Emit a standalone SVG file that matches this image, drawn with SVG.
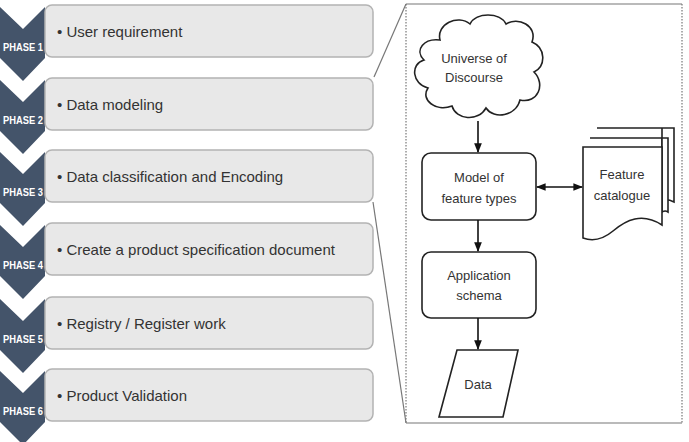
<svg xmlns="http://www.w3.org/2000/svg" width="689" height="442" viewBox="0 0 689 442">
<defs>
<style>
.chev{fill:#44546a}
.ph{fill:#fff;font-family:"Liberation Sans",sans-serif;font-size:10.5px;font-weight:bold}
.box{fill:#e8e8e8;stroke:#b3b3b3;stroke-width:1.5}
.bt{fill:#333;font-family:"Liberation Sans",sans-serif;font-size:15px}
.nd{fill:#fff;stroke:#222;stroke-width:1.6}
.nt{fill:#333;font-family:"Liberation Sans",sans-serif;font-size:13px;text-anchor:middle}
.con{stroke:#111;stroke-width:1.6;fill:none}
.frame{stroke:#777;stroke-width:1.2;fill:none}
.dot{stroke:#777;stroke-width:1.2;fill:none;stroke-dasharray:1.5 1.5}
</style>
<marker id="ah" viewBox="0 0 10 10" refX="9" refY="5" markerWidth="6" markerHeight="6" orient="auto-start-reverse">
<path d="M0,1 L10,5 L0,9 Z" fill="#111"/>
</marker>
</defs>

<g id="phase1">
<path class="chev" d="M0,7 L23,29 L45,7 L45,58 L23,81 L0,58 Z"/>
<rect class="box" x="45" y="5" width="328" height="52" rx="7"/>
<text class="ph" x="3" y="51" textLength="40" lengthAdjust="spacingAndGlyphs">PHASE 1</text>
<text class="bt" x="57" y="37">• User requirement</text>
</g>
<g id="phase2">
<path class="chev" d="M0,80 L23,102 L45,80 L45,131 L23,154 L0,131 Z"/>
<rect class="box" x="45" y="78" width="328" height="52" rx="7"/>
<text class="ph" x="3" y="124" textLength="40" lengthAdjust="spacingAndGlyphs">PHASE 2</text>
<text class="bt" x="57" y="110">• Data modeling</text>
</g>
<g id="phase3">
<path class="chev" d="M0,152 L23,174 L45,152 L45,203 L23,226 L0,203 Z"/>
<rect class="box" x="45" y="150" width="328" height="52" rx="7"/>
<text class="ph" x="3" y="196" textLength="40" lengthAdjust="spacingAndGlyphs">PHASE 3</text>
<text class="bt" x="57" y="182">• Data classification and Encoding</text>
</g>
<g id="phase4">
<path class="chev" d="M0,225 L23,247 L45,225 L45,276 L23,299 L0,276 Z"/>
<rect class="box" x="45" y="223" width="328" height="52" rx="7"/>
<text class="ph" x="3" y="269" textLength="40" lengthAdjust="spacingAndGlyphs">PHASE 4</text>
<text class="bt" x="57" y="255">• Create a product specification document</text>
</g>
<g id="phase5">
<path class="chev" d="M0,299 L23,321 L45,299 L45,350 L23,373 L0,350 Z"/>
<rect class="box" x="45" y="297" width="328" height="52" rx="7"/>
<text class="ph" x="3" y="343" textLength="40" lengthAdjust="spacingAndGlyphs">PHASE 5</text>
<text class="bt" x="57" y="329">• Registry / Register work</text>
</g>
<g id="phase6">
<path class="chev" d="M0,371 L23,393 L45,371 L45,422 L23,445 L0,422 Z"/>
<rect class="box" x="45" y="369" width="328" height="52" rx="7"/>
<text class="ph" x="3" y="415" textLength="40" lengthAdjust="spacingAndGlyphs">PHASE 6</text>
<text class="bt" x="57" y="401">• Product Validation</text>
</g>

<g id="panel">
<line class="frame" x1="406" y1="4" x2="682" y2="4"/>
<line class="frame" x1="406" y1="423" x2="682" y2="423"/>
<line class="dot" x1="406" y1="4" x2="406" y2="423"/>
<line class="dot" x1="682" y1="4" x2="682" y2="423"/>
<line class="frame" x1="374" y1="77" x2="406" y2="4"/>
<line class="frame" x1="373" y1="202" x2="406" y2="423"/>
</g>

<g id="universe">
<path class="nd" d="M440,40 C436,24 458,14 470,24 C476,12 500,12 506,24 C518,16 538,26 532,42 C546,48 546,66 534,72 C546,84 538,104 520,100 C516,116 494,120 486,108 C478,122 456,120 452,106 C436,112 420,100 428,88 C412,84 410,64 424,60 C414,50 424,38 440,40 Z"/>
<text class="nt" x="474" y="63">Universe of</text>
<text class="nt" x="474" y="82">Discourse</text>
</g>

<g id="model">
<rect class="nd" x="422" y="153" width="114" height="67" rx="9"/>
<text class="nt" x="479" y="182">Model of</text>
<text class="nt" x="479" y="203">feature types</text>
</g>

<g id="catalogue">
<path class="nd" d="M597,128 H674 V202 C666,198 664,200 662,202 V128 Z"/>
<path class="nd" d="M590,138 H668 V212 C665,210 664,211 662,212 V138 Z"/>
<path class="nd" d="M583,147 H662 V225 C642,212 626,220 613,231 C601,241 591,241 583,238 Z"/>
<text class="nt" x="622" y="179">Feature</text>
<text class="nt" x="622" y="200">catalogue</text>
</g>

<g id="schema">
<rect class="nd" x="422" y="252" width="114" height="66" rx="9"/>
<text class="nt" x="479" y="280">Application</text>
<text class="nt" x="479" y="300">schema</text>
</g>

<g id="data">
<path class="nd" d="M457,350 H518 L503,417 H439 Z"/>
<text class="nt" x="478" y="389">Data</text>
</g>

<g id="connectors">
<line class="con" x1="478" y1="121" x2="478" y2="152" marker-end="url(#ah)"/>
<line class="con" x1="537" y1="187" x2="582" y2="187" marker-start="url(#ah)" marker-end="url(#ah)"/>
<line class="con" x1="478" y1="220" x2="478" y2="251" marker-end="url(#ah)"/>
<line class="con" x1="478" y1="318" x2="478" y2="349" marker-end="url(#ah)"/>
</g>
</svg>
